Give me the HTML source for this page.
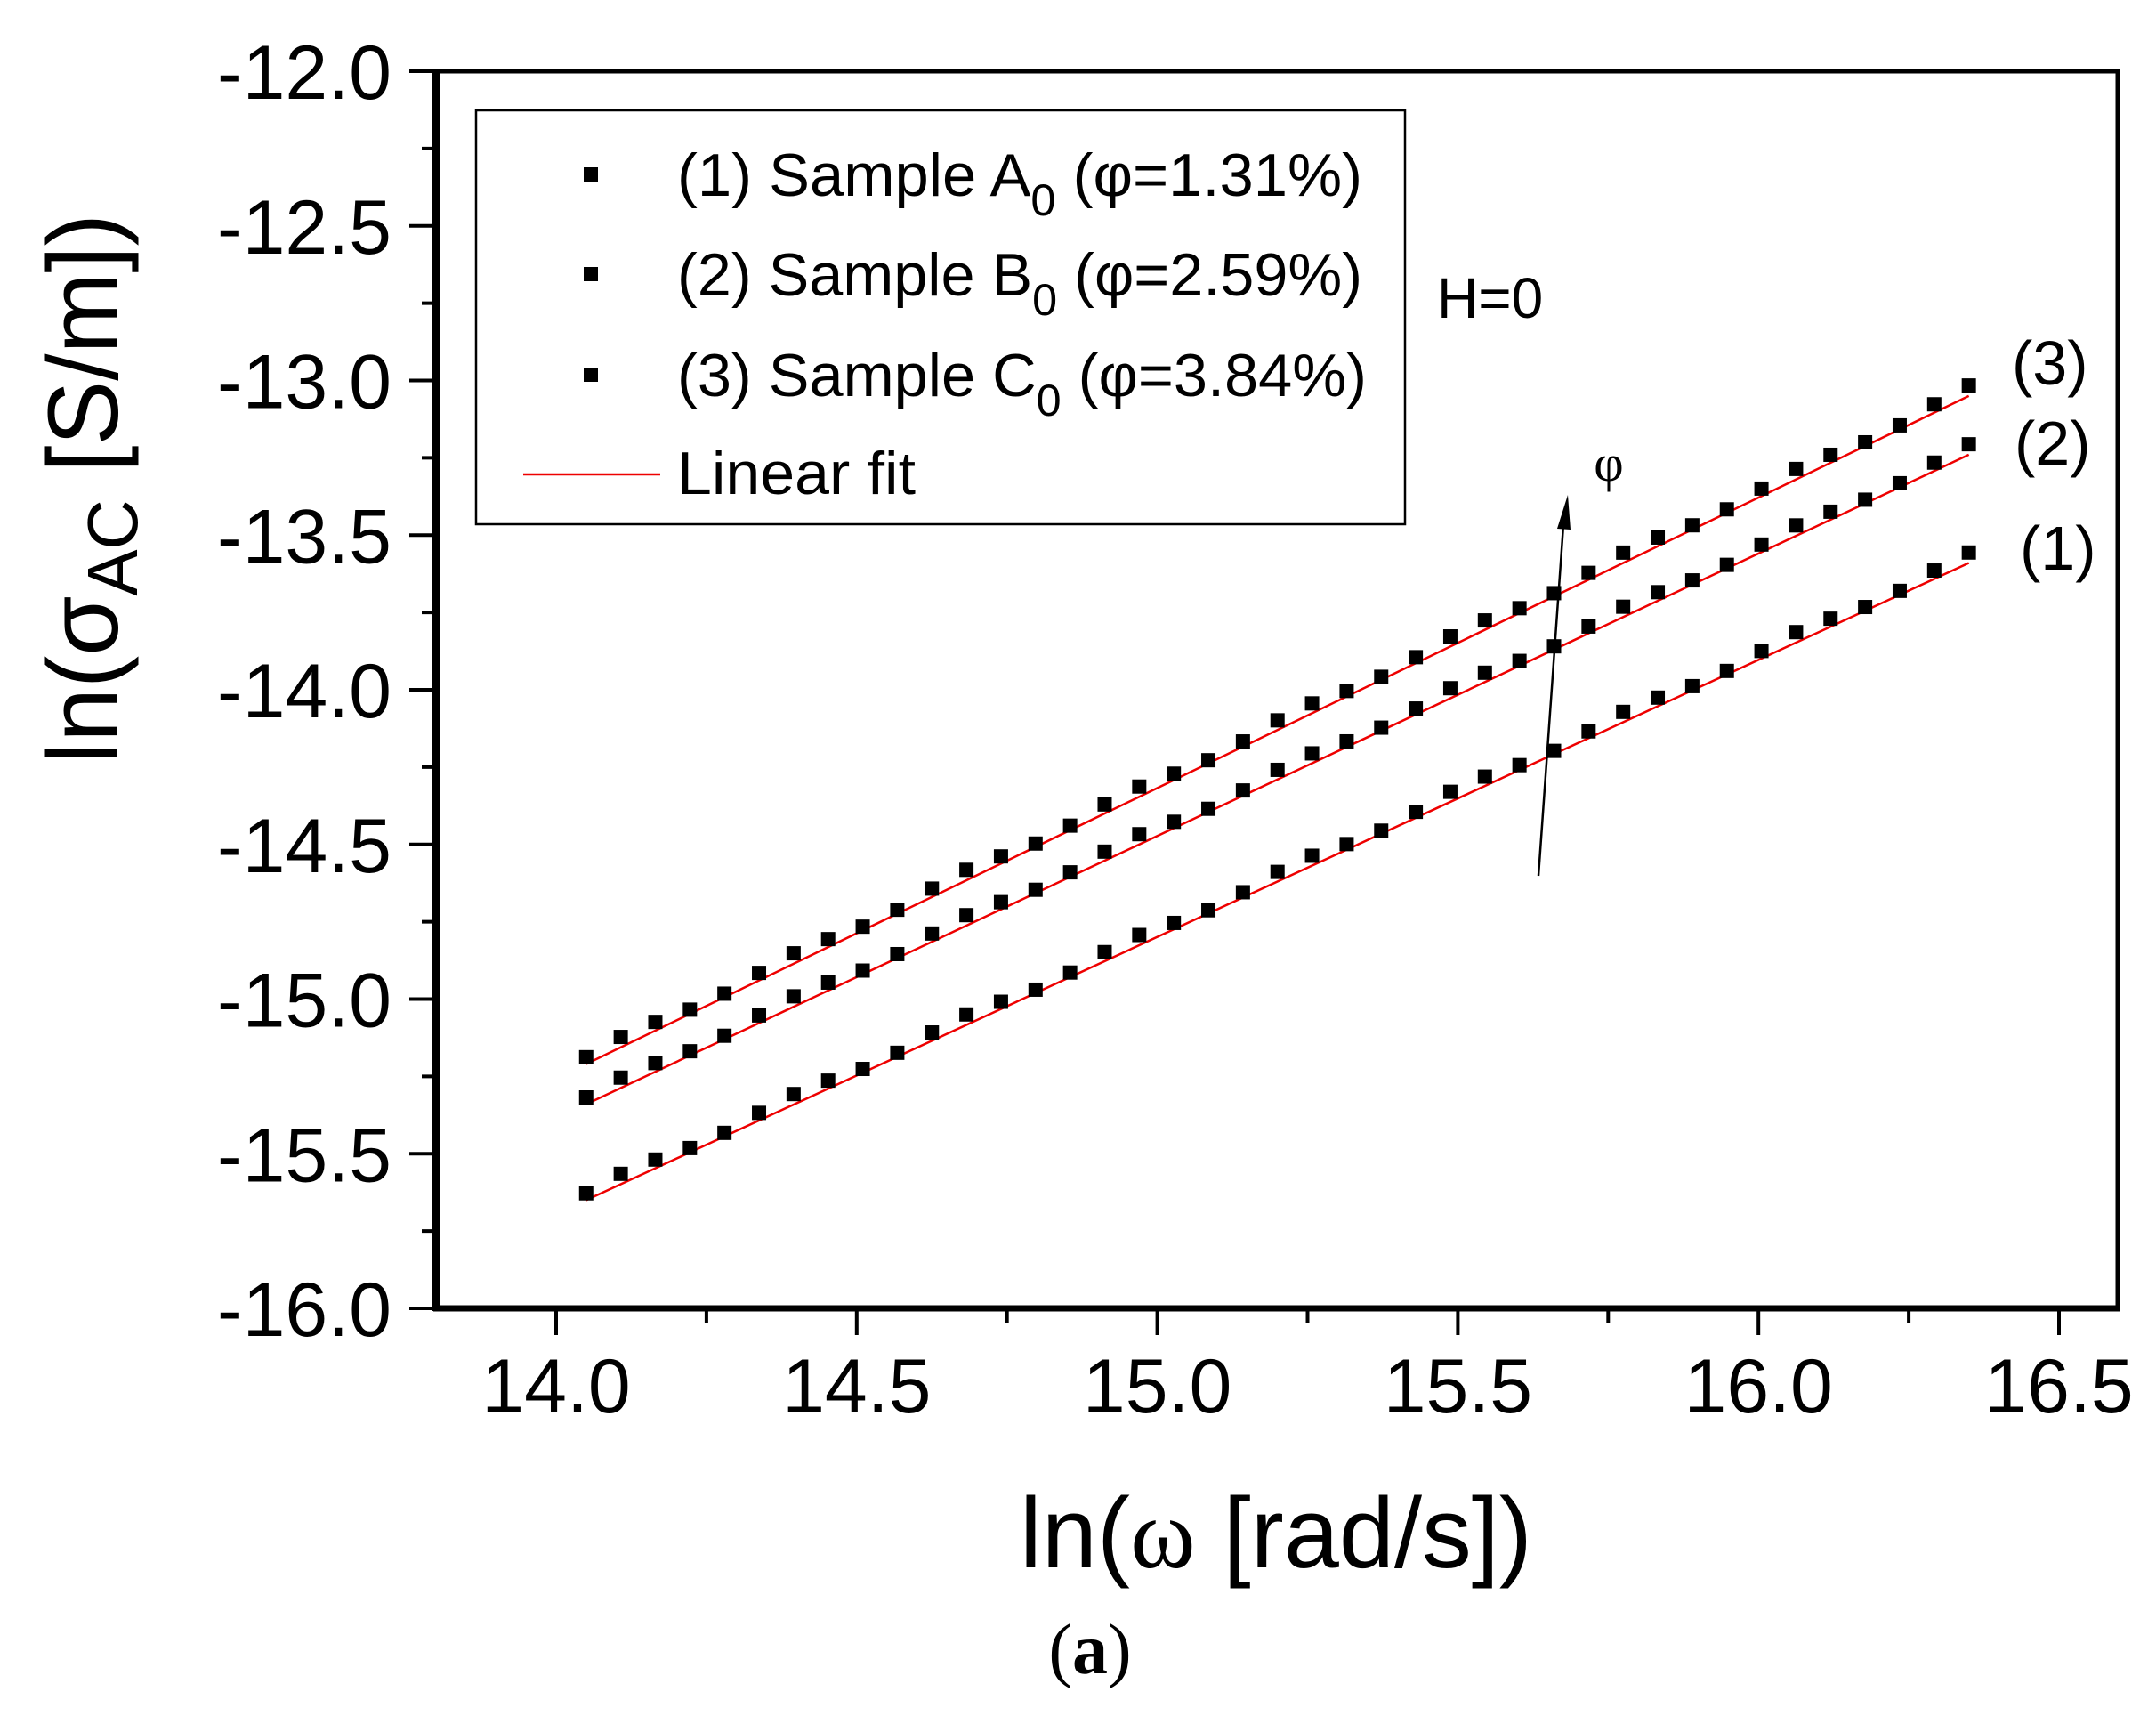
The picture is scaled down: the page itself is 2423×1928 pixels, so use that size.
<!DOCTYPE html>
<html><head><meta charset="utf-8"><style>body{margin:0;background:#fff}svg{display:block}</style></head>
<body>
<svg id="s" width="2423" height="1928" viewBox="0 0 2423 1928" xmlns="http://www.w3.org/2000/svg" font-family="Liberation Sans, Arial, sans-serif">
<rect width="2423" height="1928" fill="#fff"/>
<g id="ticks" stroke="#000"></g>
<rect x="490" y="80" width="1890" height="1390" fill="none" stroke="#000" stroke-width="5"/>
<line x1="490" y1="78" x2="490" y2="1473" stroke="#000" stroke-width="8"/>
<line x1="487" y1="1470" x2="2382" y2="1470" stroke="#000" stroke-width="7"/>
<g id="ylab" font-size="86" text-anchor="end"></g>
<g id="xlab" font-size="86" text-anchor="middle"></g>
<g id="data"></g>
<rect x="535" y="124" width="1044" height="465" fill="none" stroke="#000" stroke-width="2.5"/>
<g font-size="68">
<rect x="656" y="188" width="16" height="16"/><text x="761" y="220" textLength="770" lengthAdjust="spacingAndGlyphs">(1) Sample A<tspan font-size="50" dy="22">0</tspan><tspan dy="-22"> (φ=1.31%)</tspan></text>
<rect x="656" y="300" width="16" height="16"/><text x="761" y="332" textLength="770" lengthAdjust="spacingAndGlyphs">(2) Sample B<tspan font-size="50" dy="22">0</tspan><tspan dy="-22"> (φ=2.59%)</tspan></text>
<rect x="656" y="413" width="16" height="16"/><text x="761" y="445" textLength="775" lengthAdjust="spacingAndGlyphs">(3) Sample C<tspan font-size="50" dy="22">0</tspan><tspan dy="-22"> (φ=3.84%)</tspan></text>
<line x1="588" y1="533" x2="742" y2="533" stroke="#e00" stroke-width="2.5"/>
<text x="761" y="555" textLength="268" lengthAdjust="spacingAndGlyphs">Linear fit</text>
</g>
<text x="1615" y="357" font-size="64">H=0</text>
<g font-size="70">
<text x="2261" y="432">(3)</text><text x="2264" y="522">(2)</text><text x="2270" y="640">(1)</text>
</g>
<line x1="1729" y1="984" x2="1757" y2="590" stroke="#000" stroke-width="2.5"/>
<polygon points="1762,556 1750,594 1765,595" fill="#000"/>
<text x="1808" y="540" font-size="58" text-anchor="middle" font-family="Liberation Serif, serif">φ</text>
<text x="1434" y="1761" font-size="112" text-anchor="middle" textLength="576" lengthAdjust="spacingAndGlyphs">ln(<tspan font-family="Liberation Serif, serif">ω</tspan> [rad/s])</text>
<text transform="translate(132,549) rotate(-90)" font-size="112" text-anchor="middle" textLength="618" lengthAdjust="spacingAndGlyphs">ln(σ<tspan font-size="80" dy="22">AC</tspan><tspan dy="-22"> [S/m])</tspan></text>
<text x="1225" y="1880" font-size="80" text-anchor="middle" font-family="Liberation Serif, serif">(<tspan font-weight="bold">a</tspan>)</text>
</svg>
<script>
var NS="http://www.w3.org/2000/svg";
function X(v){return 625+(v-14)*675.6}
function Y(v){return 80+(-12-v)*347.5}
function el(p,t,a,txt){var e=document.createElementNS(NS,t);for(var k in a)e.setAttribute(k,a[k]);if(txt)e.textContent=txt;document.getElementById(p).appendChild(e);}
for(var i=0;i<=16;i++){var v=-12-i*0.25,y=Y(v),L=(i%2==0)?30:16;el("ticks","line",{x1:490-L,y1:y,x2:490,y2:y,"stroke-width":4});if(i%2==0)el("ylab","text",{x:440,y:y+31},v.toFixed(1));}
for(var i=-1;i<=10;i++){var v=14+i*0.25,x=X(v);if(x<490)continue;var L=(i%2==0)?30:16;el("ticks","line",{x1:x,y1:1470,x2:x,y2:1470+L,"stroke-width":4});if(i%2==0&&i>=0)el("xlab","text",{x:x,y:1587},v.toFixed(1));}
var S=[[-15.21,-13.05],[-15.34,-13.24],[-15.65,-13.59]];
for(var s=0;s<3;s++){var a=S[s];el("data","line",{x1:X(14.05),y1:Y(a[0]),x2:X(16.35),y2:Y(a[1]),stroke:"#e00","stroke-width":2.5});}
for(var s=0;s<3;s++){var a=S[s];for(var j=0;j<=40;j++){var t=j/40,xv=14.05+2.3*t,yv=a[0]+(a[1]-a[0])*t+0.022+0.012*Math.sin(j*1.3);el("data","rect",{x:X(xv)-8,y:Y(yv)-8,width:16,height:16,fill:"#000"});}}
</script>
</body></html>
